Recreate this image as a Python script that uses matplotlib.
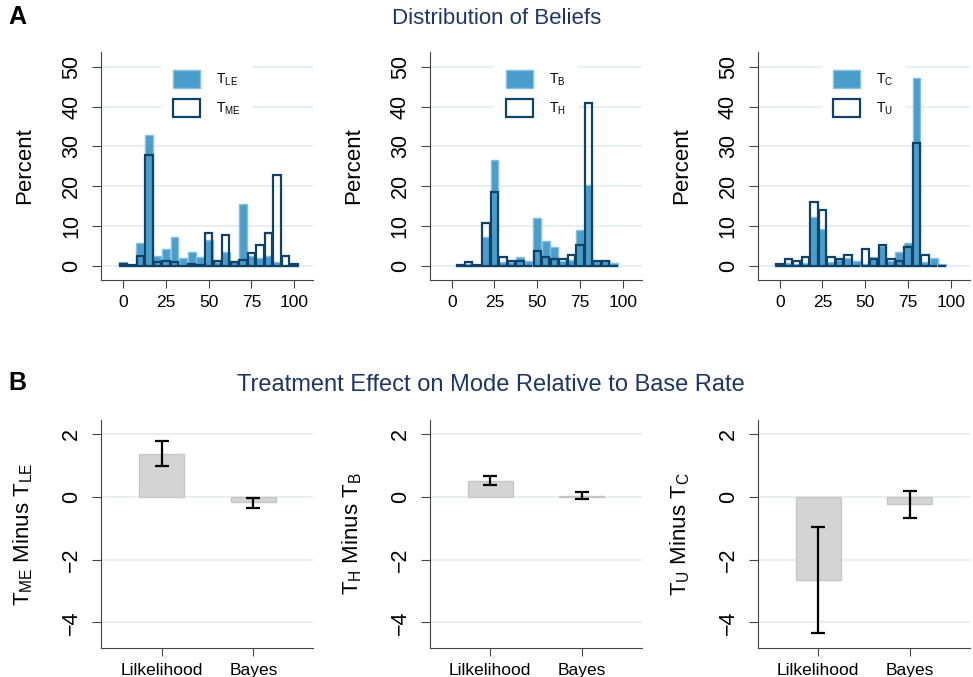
import matplotlib.pyplot as plt
from matplotlib.patches import Patch
import numpy as np

plt.rcParams["font.family"] = ["Liberation Sans", "DejaVu Sans"]

# histogram bins (percent of answers)
bins_a = [0, 5, 10, 15, 20, 25, 30, 35, 40, 45, 50, 55, 60, 65, 70, 75, 80, 85, 90, 95, 100]
t_le = [0.9, 0.3, 5.9, 32.8, 2.6, 4.2, 7.4, 2.1, 3.4, 2.3, 6.5, 1.0, 3.5, 1.3, 15.5, 2.5, 1.9, 2.4, 1.0, 0.0, 0.0]
t_me = [0.4, 0.3, 2.4, 27.9, 1.0, 1.3, 0.9, 0.1, 0.4, 0.2, 8.3, 1.3, 7.7, 1.0, 1.5, 3.2, 5.2, 8.4, 22.8, 2.4, 0.4]

bins_b = [5, 10, 15, 20, 25, 30, 35, 40, 45, 50, 55, 60, 65, 70, 75, 80, 85, 90, 95]
t_b = [0.3, 0.6, 0.3, 7.2, 26.5, 1.0, 1.0, 2.2, 1.2, 12.0, 6.4, 4.8, 1.2, 1.5, 9.1, 20.4, 1.3, 1.2, 0.7]
t_h = [0.3, 0.9, 0.3, 10.7, 18.6, 2.3, 1.3, 1.3, 0.0, 3.8, 2.3, 1.7, 1.7, 2.8, 5.2, 41.0, 1.3, 1.2, 0.0]

bins_c = [0, 5, 10, 15, 20, 25, 30, 35, 40, 45, 50, 55, 60, 65, 70, 75, 80, 85, 90, 95]
t_c = [0.4, 0.8, 0.5, 0.8, 12.4, 9.4, 1.0, 1.5, 2.0, 1.3, 0.5, 2.3, 5.0, 1.2, 3.4, 5.9, 47.1, 1.0, 1.9, 0.4]
t_u = [0.4, 1.8, 1.3, 2.3, 16.1, 14.0, 2.3, 1.8, 2.8, 0.0, 4.3, 1.8, 5.4, 1.8, 1.3, 4.9, 30.9, 2.8, 0.0, 0.0]

hist_panels = [
    (bins_a, t_le, t_me, "LE", "ME"),
    (bins_b, t_b, t_h, "B", "H"),
    (bins_c, t_c, t_u, "C", "U"),
]

# treatment effects
categories = ["Lilkelihood", "Bayes"]
effects = [[1.38, -0.17], [0.49, 0.02], [-2.65, -0.24]]
ci_low = [[0.98, -0.35], [0.37, -0.06], [-4.34, -0.69]]
ci_high = [[1.79, -0.03], [0.66, 0.14], [-0.97, 0.19]]
effect_labels = [("ME", "LE"), ("H", "B"), ("U", "C")]

FILL = "#4a9ccb"
FILL_EDGE = "#86c0e0"
HOLLOW = "#0f4268"
GRID = "#e8eff2"
NAVY = "#1f3563"
AXC = "#444444"


def sub(a):
    return "T$_{\\mathregular{" + a + "}}$"


def style_axes(ax):
    ax.yaxis.grid(True, color=GRID, linewidth=1.5, zorder=0)
    ax.set_axisbelow(True)
    for s in ["top", "right"]:
        ax.spines[s].set_visible(False)
    for s in ["left", "bottom"]:
        ax.spines[s].set_color(AXC)
    ax.tick_params(axis="y", labelsize=15.5, length=6.5, pad=7, color=AXC)
    ax.tick_params(axis="x", labelsize=12.5, length=6, pad=4.5, color=AXC)


fig = plt.figure(figsize=(9.73, 6.77), dpi=100)
lefts = [101 / 973, 429.5 / 973, 757.5 / 973]
w = 212 / 973
h = 228 / 677

for i, (bins, filled, hollow, a, b) in enumerate(hist_panels):
    ax = fig.add_axes([lefts[i], 1 - 280 / 677, w, h])
    ax.bar(bins, filled, width=4.6, color=FILL, edgecolor=FILL_EDGE, linewidth=1, zorder=2)
    ax.bar(bins, hollow, width=4.3, facecolor="none", edgecolor=HOLLOW, linewidth=1.6, zorder=3)
    ax.set_xlim(-13, 111)
    ax.set_ylim(-3.5, 53.7)
    ax.set_yticks([0, 10, 20, 30, 40, 50])
    ax.set_yticklabels(["0", "10", "20", "30", "40", "50"], rotation=90, va="center")
    ax.set_xticks([0, 25, 50, 75, 100])
    style_axes(ax)
    ax.set_ylabel("Percent", fontsize=16)
    ax.yaxis.set_label_coords(-0.31, 0.5)
    handles = [
        Patch(facecolor=FILL, edgecolor=FILL_EDGE, linewidth=1),
        Patch(facecolor="white", edgecolor=HOLLOW, linewidth=1.6),
    ]
    leg = ax.legend(handles, [sub(a), sub(b)], loc="upper center",
                    bbox_to_anchor=(0.5, 1.0), frameon=True, fontsize=10,
                    handlelength=1.95, handleheight=1.6, labelspacing=0.8,
                    handletextpad=1.15, borderpad=0.8, fancybox=False)
    leg.get_frame().set_edgecolor("white")
    leg.get_frame().set_facecolor("white")
    leg.get_frame().set_alpha(1)

x = np.arange(1, len(categories) + 1)
for i in range(3):
    ax = fig.add_axes([lefts[i], 1 - 648 / 677, w, h])
    lo = np.array(ci_low[i])
    hi = np.array(ci_high[i])
    mid = np.array(effects[i])
    ax.bar(x, mid, width=0.49, color="#d4d4d4", edgecolor="#c6c6c6", linewidth=1, zorder=2)
    ax.errorbar(x, (lo + hi) / 2, yerr=(hi - lo) / 2, fmt="none", ecolor="black",
                elinewidth=1.6, capsize=5, capthick=1.6, zorder=3)
    ax.set_xlim(0.34, 2.65)
    ax.set_ylim(-4.82, 2.45)
    ax.set_yticks([2, 0, -2, -4])
    ax.set_yticklabels(["2", "0", "\u22122", "\u22124"], rotation=90, va="center")
    ax.set_xticks(x)
    ax.set_xticklabels(categories)
    style_axes(ax)
    top, base = effect_labels[i]
    ax.set_ylabel(sub(top) + " Minus " + sub(base), fontsize=16)
    ax.yaxis.set_label_coords(-0.31, 0.5)

fig.text(8 / 973, 1 - 17 / 677, "A", fontsize=18, fontweight="bold", va="center")
fig.text(497 / 973, 1 - 18 / 677, "Distribution of Beliefs", fontsize=16, color=NAVY,
         ha="center", va="center")
fig.text(8 / 973, 1 - 383 / 677, "B", fontsize=18, fontweight="bold", va="center")
fig.text(491 / 973, 1 - 385 / 677, "Treatment Effect on Mode Relative to Base Rate",
         fontsize=17, color=NAVY, ha="center", va="center")

fig.savefig("out.png", dpi=100, facecolor="white")
